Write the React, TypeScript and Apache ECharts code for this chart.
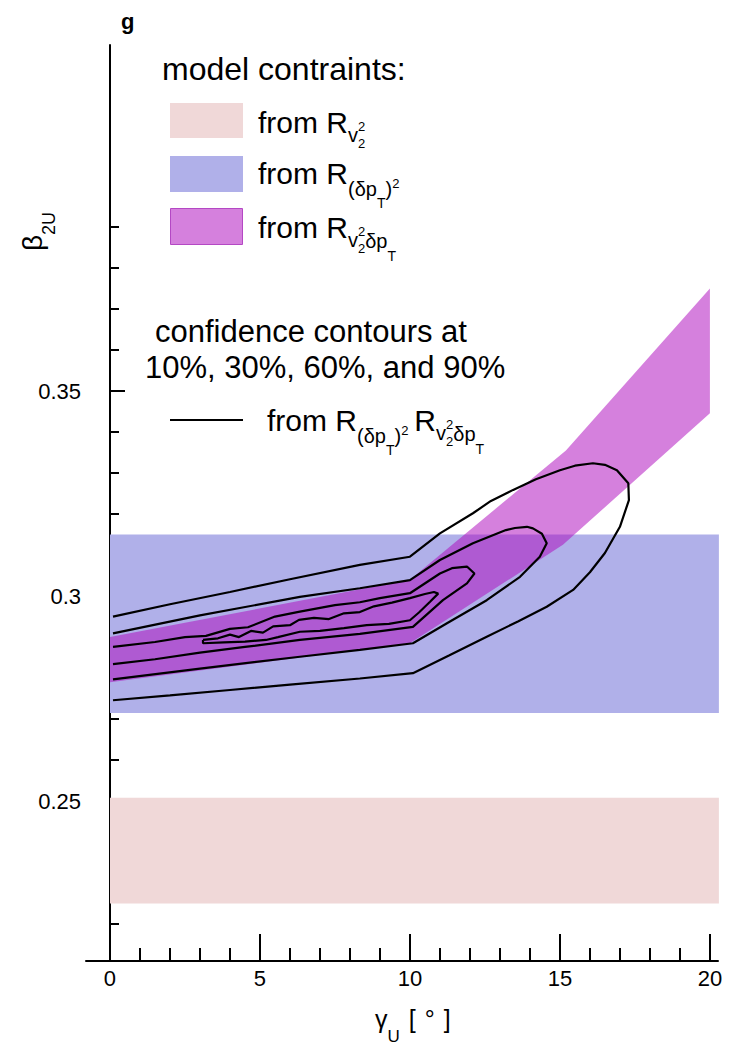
import React, { useEffect, useRef } from 'react';
import * as echarts from 'echarts';

// ---------- data ----------
const xMajorTicks = [0, 5, 10, 15, 20];
const xMinorTicks = [1, 2, 3, 4, 6, 7, 8, 9, 11, 12, 13, 14, 16, 17, 18, 19];
const yMajorTicks = [0.25, 0.3, 0.35];
const yMinorTicks = [0.22, 0.23, 0.24, 0.26, 0.27, 0.28, 0.29, 0.31, 0.32, 0.33, 0.34, 0.36, 0.37, 0.38, 0.39];

// constraint from R_{v2^2}
const v2BandX = [0, 20.3];
const v2BandY = [0.225, 0.2508];
// constraint from R_{(dpT)^2}
const dpt2BandX = [0, 20.3];
const dpt2BandY = [0.2715, 0.315];
// constraint from R_{v2^2 dpT}
const mixedUpperX = [0, 10, 15.2, 20];
const mixedUpperY = [0.29, 0.304, 0.3355, 0.375];
const mixedLowerX = [0, 10, 15.1, 20];
const mixedLowerY = [0.279, 0.2885, 0.3125, 0.3446];

// confidence contours
const contour10 = [
  [0.1, 0.2746], [2, 0.2758], [4, 0.2771], [6, 0.2784], [8.33, 0.2799], [10.1, 0.2812],
  [11.3, 0.2855], [12.56, 0.2901], [13.6, 0.2938], [14.56, 0.2974], [15.44, 0.3015],
  [16, 0.3058], [16.5, 0.3105], [17, 0.3169], [17.3, 0.3234], [17.28, 0.3275], [16.9, 0.3307],
  [16.5, 0.332], [16.1, 0.3324], [15.5, 0.3318], [15, 0.3307], [14.2, 0.3285], [13.44, 0.3259],
  [12.7, 0.3232], [12.1, 0.3202], [11, 0.3153], [10, 0.3096], [8.33, 0.3076], [6, 0.3041],
  [4, 0.301], [2, 0.298], [0.1, 0.295],
];
const contour30 = [
  [0.1, 0.2797], [3, 0.2823], [6.33, 0.2852], [8.33, 0.2869], [10.1, 0.2885], [11.22, 0.2933],
  [12.56, 0.299], [13.67, 0.3047], [14.33, 0.3096], [14.56, 0.3129], [14.4, 0.3152], [14.1, 0.3165],
  [13.9, 0.3169], [13.5, 0.3166], [13.2, 0.3161], [12.1, 0.3129], [11, 0.3088], [10, 0.3039],
  [8.33, 0.3019], [6.33, 0.2998], [3, 0.2953], [0.1, 0.2909],
];
const contour60 = [
  [0.1, 0.2834], [1.5, 0.2846], [3, 0.2862], [4.5, 0.2876], [6.33, 0.2893], [8.33, 0.2908],
  [10.1, 0.2925], [11.1, 0.299], [11.9, 0.3031], [12.15, 0.3055], [11.9, 0.3072], [11.4, 0.3068],
  [11, 0.3055], [10, 0.3007], [9, 0.2995], [8.33, 0.2985], [7.5, 0.2978], [6.33, 0.2962],
  [5.5, 0.2950], [4.6, 0.2924], [4, 0.292], [3.2, 0.2903], [2.5, 0.29], [1.5, 0.2888], [0.1, 0.2876],
];
const contour90 = [
  [3.1, 0.2893], [3.6, 0.2897], [4.0, 0.2906], [4.3, 0.2900], [4.7, 0.2915], [5.1, 0.2911],
  [5.44, 0.2926], [6.0, 0.2929], [6.3, 0.2942], [6.8, 0.2947], [7.3, 0.2944], [7.8, 0.2958],
  [8.33, 0.2961], [8.8, 0.2975], [9.4, 0.2984], [10, 0.2995], [10.5, 0.3005], [10.8, 0.301],
  [10.94, 0.3006], [10.67, 0.2986], [10.3, 0.296], [10, 0.2941], [9.3, 0.2932], [8.56, 0.2929],
  [7.8, 0.2922], [7, 0.2915], [6.33, 0.2913], [5.6, 0.29], [5.2, 0.2893], [4.5, 0.2889],
  [3.8, 0.2887], [3.1, 0.2885], [3.1, 0.2893],
];

// ---------- style ----------
const FONT = '"Liberation Sans", Arial, Helvetica, sans-serif';
const PINK = '#f0d8d8';
const BLUE = '#b0b0e9';
const MAGENTA = 'rgba(174, 11, 190, 0.52)';
const MAGENTA_SWATCH = '#d580dd';

let measureCtx: CanvasRenderingContext2D | null = null;
function measure(t: string, size: number, weight: string) {
  if (!measureCtx) measureCtx = document.createElement('canvas').getContext('2d');
  if (!measureCtx) return t.length * size * 0.55;
  measureCtx.font = `${weight} ${size}px ${FONT}`;
  return measureCtx.measureText(t).width;
}

type Frag = { t: string; s: number; dy: number; stack?: boolean; gap?: number; w?: string };
function textRun(frags: Frag[], x0: number, base: number): any[] {
  const out: any[] = [];
  let x = x0;
  let stackW = 0;
  let stacking = false;
  for (const f of frags) {
    const weight = f.w || 'normal';
    if (f.gap) x += f.gap;
    const w = measure(f.t, f.s, weight);
    out.push({
      type: 'text',
      x,
      y: base + f.dy - 0.35 * f.s,
      z: 20,
      style: {
        text: f.t,
        fontSize: f.s,
        fontFamily: FONT,
        fontWeight: weight,
        fill: '#000',
        textAlign: 'left',
        textVerticalAlign: 'middle',
        verticalAlign: 'middle',
      },
    });
    if (f.stack) {
      stacking = true;
      stackW = w;
    } else if (stacking) {
      x += Math.max(w, stackW);
      stacking = false;
    } else {
      x += w;
    }
  }
  return out;
}

function polygonSeries(name: string, pts: number[][], fill: string, z: number) {
  return {
    type: 'custom',
    name,
    z,
    silent: true,
    data: [0],
    renderItem: (_p: any, api: any) => ({
      type: 'polygon',
      shape: { points: pts.map((p) => api.coord(p)) },
      style: { fill },
    }),
  };
}

function rectPoints(xs: number[], ys: number[]) {
  return [[xs[0], ys[0]], [xs[1], ys[0]], [xs[1], ys[1]], [xs[0], ys[1]]];
}

function bandPoints(ux: number[], uy: number[], lx: number[], ly: number[]) {
  const up = ux.map((x, i) => [x, uy[i]]);
  const lo = lx.map((x, i) => [x, ly[i]]).reverse();
  return [...up, ...lo];
}

function contourSeries(name: string, pts: number[][]) {
  return {
    type: 'line',
    name,
    z: 10,
    data: pts,
    showSymbol: false,
    symbol: 'none',
    silent: true,
    lineStyle: { color: '#000', width: 2.2 },
  };
}

const FROM_R: Frag = { t: 'from R', s: 30, dy: 0 };
const SUB_V2: Frag[] = [
  { t: 'v', s: 20, dy: 9 },
  { t: '2', s: 13, dy: -2, stack: true },
  { t: '2', s: 13, dy: 15 },
];
const SUB_DPT2: Frag[] = [
  { t: '(δp', s: 20, dy: 12 },
  { t: 'T', s: 14, dy: 24 },
  { t: ')', s: 20, dy: 12 },
  { t: '2', s: 13, dy: 4 },
];
const SUB_V2DPT: Frag[] = [
  { t: 'v', s: 20, dy: 9 },
  { t: '2', s: 13, dy: -2, stack: true },
  { t: '2', s: 13, dy: 15 },
  { t: 'δp', s: 20, dy: 10 },
  { t: 'T', s: 14, dy: 23 },
];

export default function App() {
  const ref = useRef<HTMLDivElement>(null);
  useEffect(() => {
    document.body.style.margin = '0';
    if (!ref.current) return;
    const chart = echarts.init(ref.current, undefined, { renderer: 'svg' });

    const axisText = { fontSize: 22, color: '#000', fontFamily: FONT };
    const graphics: any[] = [
      ...textRun([{ t: 'g', s: 22, dy: 0, w: 'bold' }], 121, 29),
      ...textRun([{ t: 'model contraints:', s: 32, dy: 0 }], 162, 80),
      { type: 'rect', z: 20, shape: { x: 170, y: 103, width: 73, height: 35 }, style: { fill: PINK } },
      { type: 'rect', z: 20, shape: { x: 170, y: 156, width: 73, height: 36 }, style: { fill: BLUE } },
      {
        type: 'rect', z: 20, shape: { x: 170.5, y: 208.5, width: 72, height: 36 },
        style: { fill: MAGENTA_SWATCH, stroke: '#b448c4', lineWidth: 1 },
      },
      ...textRun([FROM_R, ...SUB_V2], 258, 133),
      ...textRun([FROM_R, ...SUB_DPT2], 258, 184),
      ...textRun([FROM_R, ...SUB_V2DPT], 258, 238),
      ...textRun([{ t: 'confidence contours at', s: 31, dy: 0 }], 155, 342),
      ...textRun([{ t: '10%, 30%, 60%, and 90%', s: 31, dy: 0 }], 145, 378),
      { type: 'line', z: 20, shape: { x1: 170, y1: 420, x2: 243, y2: 420 }, style: { stroke: '#000', lineWidth: 2 } },
      ...textRun([FROM_R, ...SUB_DPT2, { t: 'R', s: 30, dy: 0, gap: 6 }, ...SUB_V2DPT], 267, 431),
      // x axis title
      ...textRun(
        [
          { t: 'γ', s: 25, dy: 0 },
          { t: 'U', s: 17, dy: 14 },
          { t: '[', s: 25, dy: 0, gap: 9 },
          { t: '°', s: 25, dy: 0, gap: 9 },
          { t: ']', s: 25, dy: 0, gap: 9 },
        ],
        375,
        1028,
      ),
      // y axis title
      {
        type: 'group',
        x: 42,
        y: 251,
        rotation: Math.PI / 2,
        children: textRun(
          [
            { t: 'β', s: 28, dy: 0 },
            { t: '2U', s: 18, dy: 13 },
          ],
          0,
          0,
        ),
      },
    ];

    chart.setOption({
      animation: false,
      backgroundColor: '#fff',
      grid: { left: 86, right: 12, top: 45, bottom: 91, containLabel: false, outerBoundsMode: 'none' },
      xAxis: [
        {
          type: 'value', min: -0.8, max: 20.27, position: 'bottom',
          axisLine: { show: true, lineStyle: { color: '#000', width: 2 } },
          axisTick: { show: true, inside: true, length: 27, lineStyle: { color: '#000', width: 2 }, customValues: xMajorTicks },
          axisLabel: { show: true, customValues: xMajorTicks, margin: 6, ...axisText },
          splitLine: { show: false },
        },
        {
          type: 'value', min: -0.8, max: 20.27, position: 'bottom',
          axisLine: { show: false },
          axisTick: { show: true, inside: true, length: 13, lineStyle: { color: '#000', width: 2 }, customValues: xMinorTicks },
          axisLabel: { show: false },
          splitLine: { show: false },
        },
      ],
      yAxis: [
        {
          type: 'value', min: 0.211, max: 0.4344, position: 'left',
          axisLine: { show: true, lineStyle: { color: '#000', width: 2 } },
          axisTick: { show: true, inside: true, length: 15, lineStyle: { color: '#000', width: 2 }, customValues: yMajorTicks },
          axisLabel: { show: true, customValues: yMajorTicks, margin: 5, ...axisText },
          splitLine: { show: false },
        },
        {
          type: 'value', min: 0.211, max: 0.4344, position: 'left',
          axisLine: { show: false },
          axisTick: { show: true, inside: true, length: 9, lineStyle: { color: '#000', width: 2 }, customValues: yMinorTicks },
          axisLabel: { show: false },
          splitLine: { show: false },
        },
      ],
      series: [
        polygonSeries('from R_v2', rectPoints(v2BandX, v2BandY), PINK, 1),
        polygonSeries('from R_dpt2', rectPoints(dpt2BandX, dpt2BandY), BLUE, 2),
        polygonSeries('from R_v2dpt', bandPoints(mixedUpperX, mixedUpperY, mixedLowerX, mixedLowerY), MAGENTA, 3),
        contourSeries('10%', contour10),
        contourSeries('30%', contour30),
        contourSeries('60%', contour60),
        contourSeries('90%', contour90),
      ],
      graphic: { elements: graphics },
    });
    return () => chart.dispose();
  }, []);
  return <div ref={ref} style={{ width: 730, height: 1052 }} />;
}
